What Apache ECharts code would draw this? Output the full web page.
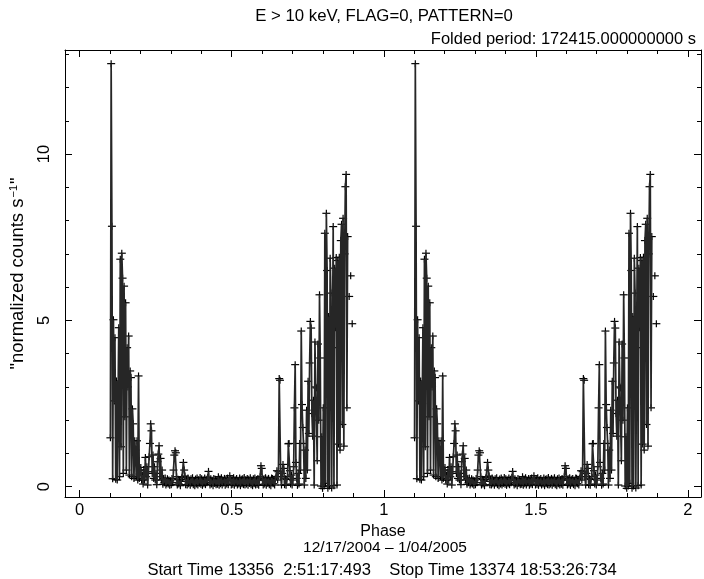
<!DOCTYPE html>
<html>
<head>
<meta charset="utf-8">
<title>Folded light curve</title>
<script src="https://cdn.jsdelivr.net/npm/echarts@6/dist/echarts.min.js"></script>
<style>
  html, body { margin: 0; padding: 0; background: #fff; }
  #chart { width: 704px; height: 579px; }
</style>
</head>
<body>
<div id="chart"></div>
<script>
// Folded light curve, E > 10 keV. Phase bins of equal width starting at PHASE_START;
// null marks a bin with no exposure. The profile is drawn twice (phase 0-1 and 1-2).
const PHASE_START = 0.100;
const BIN_WIDTH = 0.0025;
const rates = [
  1.47, 12.72, 7.83, 0.24, 5.02, 2.58, 4.48, 0.22, 3.18, 0.20, 2.50, 4.78, 0.30, 6.84, 1.20, 7.02, 6.27, 0.40, 6.03, 2.10,
  5.53, 0.50, 4.18, 3.00, 4.53, 0.35, 3.48, 3.28, 0.30, 2.34, 1.89, 0.25, 1.38, 1.10, 0.30, 1.38, 0.20, 3.33, 0.25, 0.50,
  0.58, 0.20, 0.35, 0.08, 0.50, 0.20, 0.88, 0.30, 0.60, 0.05, 0.45, 0.90, 1.30, 1.89, 1.68, 0.40, 0.95, 0.25, 0.60, 0.20,
  0.40, 0.06, 0.75, 0.98, 1.23, 0.30, 0.85, 0.20, 0.50, 0.07, 0.25, 0.12, 0.26, 0.05, 0.10, 0.24, 0.08, 0.20, 0.04, 0.18,
  0.06, 0.25, 0.12, 0.50, 0.95, 1.08, 1.02, 0.30, 0.05, 0.22, 0.08, 0.18, 0.03, 0.16, 0.27, 0.30, 0.73, 0.50, 0.32, 0.06,
  0.22, 0.05, 0.26, 0.09, 0.20, 0.04, 0.24, 0.11, 0.27, 0.06, 0.19, 0.03, 0.23, 0.08, 0.26, 0.05, 0.21, 0.10, 0.28, 0.07,
  0.24, 0.04, 0.20, 0.09, 0.26, 0.06, 0.22, 0.12, 0.28, 0.46, 0.20, 0.05, 0.24, 0.08, 0.19, 0.03, 0.25, 0.10, 0.22, 0.06,
  0.21, 0.07, 0.30, 0.04, 0.23, 0.09, 0.27, 0.05, 0.20, 0.11, 0.25, 0.04, 0.22, 0.08, 0.26, 0.06, 0.20, 0.33, 0.24, 0.05,
  0.23, 0.07, 0.27, 0.04, 0.21, 0.10, 0.25, 0.05, 0.19, 0.08, 0.26, 0.03, 0.22, 0.09, 0.24, 0.06, 0.28, 0.05, 0.21, 0.08,
  0.25, 0.04, 0.22, 0.10, 0.27, 0.06, 0.20, 0.03, 0.24, 0.09, 0.26, 0.05, 0.21, 0.07, 0.25, 0.04, 0.20, 0.30, 0.63, 0.55,
  0.20, 0.05, 0.24, 0.08, 0.27, 0.04, 0.22, 0.10, 0.25, 0.06, 0.20, 0.03, 0.26, 0.25, 0.09, 0.22, 0.05, 0.24, 0.30, 0.48,
  0.20, 0.45, 3.25, 3.20, 0.30, 0.05, 0.40, 0.67, 0.55, 0.06, 0.24, 0.04, 0.22, 0.30, 1.29, 1.30, 0.48, 0.08, 0.35, 0.05,
  0.20, 0.60, 2.37, 3.67, 0.73, 0.25, 0.04, 0.40, 0.08, 1.30, 0.50, 4.68, 2.47, 1.78, 1.30, 0.05, 1.10, 0.25, 2.30, 0.50,
  3.17, 1.60, 3.72, 4.97, 4.77, 2.20, 1.52, 2.60, 0.05, 4.35, 3.00, 2.97, 0.78, 4.29, 2.00, 5.77, 3.87, 0.02, 1.50, -0.05,
  2.37, 0.02, 7.62, 0.10, 8.22, 6.50, -0.05, 5.12, 0.02, 6.87, 5.82, -0.04, 4.18, 7.82, 0.03, 6.57, 4.78, 6.89, 0.05, 6.80,
  1.28, 6.90, 1.10, 7.40, 7.89, 1.87, 8.07, 1.22, 7.00, 9.02, 9.39, 2.37, 7.52, null, 5.72, null, 6.34, null, 4.90
];

// Axis ticks and labels
const xMajorTicks = [0, 0.5, 1, 1.5, 2];
const xMinorTicks = [0.1, 0.2, 0.3, 0.4, 0.6, 0.7, 0.8, 0.9, 1.1, 1.2, 1.3, 1.4, 1.6, 1.7, 1.8, 1.9];
const yMajorTicks = [0, 5, 10];
const yMinorTicks = [1, 2, 3, 4, 6, 7, 8, 9, 11, 12, 13];
const xRange = [-0.048, 2.043];
const yRange = [-0.31, 13.13];

const titleText = 'E > 10 keV, FLAG=0, PATTERN=0';
const periodText = 'Folded period: 172415.000000000 s';
const xName = 'Phase';
const yName = '"normalized counts s{sup|\u22121}"';
const dateText = '12/17/2004 \u2013 1/04/2005';
const timeText = 'Start Time 13356  2:51:17:493    Stop Time 13374 18:53:26:734';

const FONT = '"Liberation Sans", Arial, Helvetica, sans-serif';
const INK = '#000';

// one profile copy per cycle: [phase, rate]
function cycle(offset) {
  return rates.map((r, i) => [PHASE_START + (i + 0.5) * BIN_WIDTH + offset, r === null ? '-' : r]);
}
const copies = [cycle(0), cycle(1)];

function fmt(v) { return String(v); }

function xAxisDef(pos, ticks, len, withLine, withLabel) {
  return {
    type: 'value', position: pos, min: xRange[0], max: xRange[1],
    axisLine: { show: withLine, onZero: false, lineStyle: { color: INK, width: 1 } },
    axisTick: { show: true, inside: true, length: len, customValues: ticks, lineStyle: { color: INK, width: 1 } },
    axisLabel: withLabel ? { show: true, customValues: ticks, formatter: fmt, margin: 5,
      color: INK, fontSize: 16.5, fontFamily: FONT } : { show: false },
    splitLine: { show: false }
  };
}
function yAxisDef(pos, ticks, len, withLine, withLabel) {
  return {
    type: 'value', position: pos, min: yRange[0], max: yRange[1],
    axisLine: { show: withLine, onZero: false, lineStyle: { color: INK, width: 1 } },
    axisTick: { show: true, inside: true, length: len, customValues: ticks, lineStyle: { color: INK, width: 1 } },
    axisLabel: withLabel ? { show: true, customValues: ticks, formatter: fmt, rotate: 90, margin: 12,
      color: INK, fontSize: 16.5, fontFamily: FONT } : { show: false },
    splitLine: { show: false }
  };
}

const xAxes = [
  xAxisDef('bottom', xMajorTicks, 7, true, true),
  xAxisDef('bottom', xMinorTicks, 4, false, false),
  xAxisDef('top', xMajorTicks, 7, true, false),
  xAxisDef('top', xMinorTicks, 4, false, false)
];
Object.assign(xAxes[0], { name: xName, nameLocation: 'middle', nameGap: 20,
  nameTextStyle: { color: INK, fontSize: 16, fontFamily: FONT } });

const yAxes = [
  yAxisDef('left', yMajorTicks, 7, true, true),
  yAxisDef('left', yMinorTicks, 4, false, false),
  yAxisDef('right', yMajorTicks, 7, true, false),
  yAxisDef('right', yMinorTicks, 4, false, false)
];
Object.assign(yAxes[0], { name: yName, nameLocation: 'middle', nameRotate: 90, nameGap: 37,
  nameTextStyle: { color: INK, fontSize: 18.5, fontFamily: FONT,
    rich: { sup: { fontSize: 11, fontFamily: FONT, color: INK, padding: [0, 1, 9, 1] } } } });

// "+" marker at each bin value
function renderCross(params, api) {
  const y = api.value(1);
  if (y === '-' || y === null || isNaN(y)) return null;
  const p = api.coord([api.value(0), y]);
  const st = { stroke: INK, lineWidth: 1.2 };
  return {
    type: 'group',
    children: [
      { type: 'line', shape: { x1: p[0] - 4, y1: p[1], x2: p[0] + 4, y2: p[1] }, style: st },
      { type: 'line', shape: { x1: p[0], y1: p[1] - 3.5, x2: p[0], y2: p[1] + 3.5 }, style: st }
    ]
  };
}

const series = [];
copies.forEach(d => {
  series.push({
    type: 'line', data: d, xAxisIndex: 0, yAxisIndex: 0,
    symbol: 'none', connectNulls: false, clip: true,
    lineStyle: { color: '#262626', width: 1.7 }, silent: true
  });
  series.push({
    type: 'custom', data: d.filter(p => p[1] !== '-'), xAxisIndex: 0, yAxisIndex: 0,
    renderItem: renderCross, clip: true, silent: true
  });
});

const chart = echarts.init(document.getElementById('chart'), null, { renderer: 'canvas' });
chart.setOption({
  animation: false,
  backgroundColor: '#fff',
  textStyle: { fontFamily: FONT },
  title: [
    { text: titleText, left: 379, top: 3, textAlign: 'center',
      textStyle: { color: INK, fontSize: 16.8, fontWeight: 'normal', fontFamily: FONT } },
    { text: periodText, right: 3, top: 26,
      textStyle: { color: INK, fontSize: 16.5, fontWeight: 'normal', fontFamily: FONT } },
    { text: dateText, left: 380, top: 535, textAlign: 'center',
      textStyle: { color: INK, fontSize: 15.5, fontWeight: 'normal', fontFamily: FONT } },
    { text: timeText, left: 377, top: 557, textAlign: 'center',
      textStyle: { color: INK, fontSize: 16.6, fontWeight: 'normal', fontFamily: FONT } }
  ],
  grid: { left: 62, top: 50, width: 639, height: 447, containLabel: false },
  xAxis: xAxes,
  yAxis: yAxes,
  series: series
});
</script>
</body>
</html>
